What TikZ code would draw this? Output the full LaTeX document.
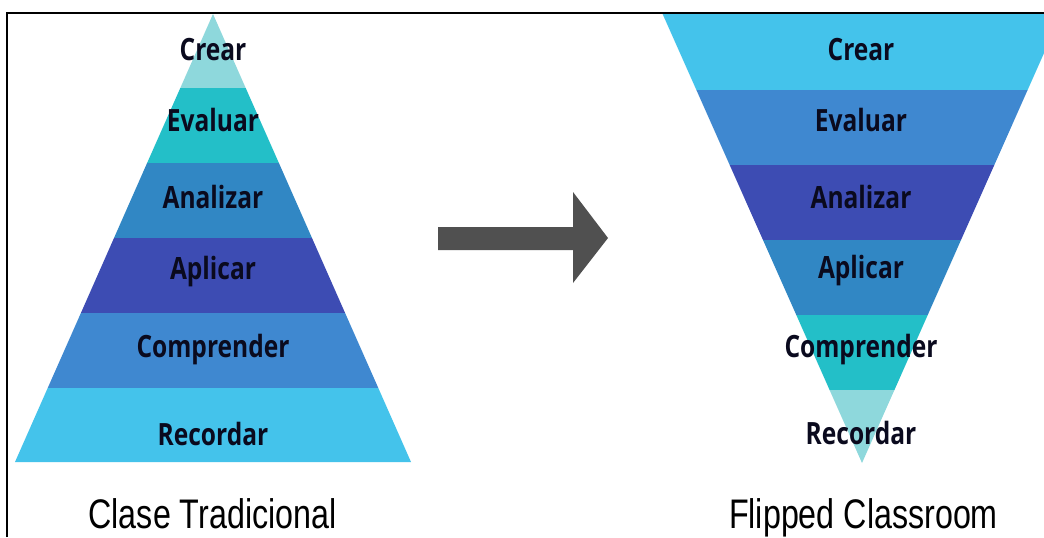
\documentclass[tikz,border=0pt]{standalone}
\usepackage{fontspec}
\usepackage{graphicx}
\newfontfamily\lblfont{Open Sans}
\newfontfamily\capfont{Liberation Sans}
\definecolor{cLight}{HTML}{8ED8DC}
\definecolor{cTeal}{HTML}{23BFC8}
\definecolor{cMid}{HTML}{3187C4}
\definecolor{cDark}{HTML}{3D4CB3}
\definecolor{cBlue}{HTML}{3F88D0}
\definecolor{cSky}{HTML}{44C3EB}
\definecolor{cText}{HTML}{0A0A1E}
\definecolor{cArrow}{HTML}{505050}
\tikzset{
  band/.style={fill=#1, draw=none},
  lvl/.style={inner sep=0pt, text=cText, font=\lblfont\bfseries\fontsize{23}{23}\selectfont},
  captext/.style={inner sep=0pt, text=black, font=\capfont\fontsize{31}{31}\selectfont},
  framestyle/.style={draw=black, line width=1.6pt}
}
\newcommand{\nar}[1]{\scalebox{0.8}[1]{#1}}
\newcommand{\narc}[1]{\scalebox{0.78}[1]{#1}}
\begin{document}
\begin{tikzpicture}[x=0.75pt,y=-0.75pt]
\useasboundingbox (0,0) rectangle (1044,537);
\fill[white] (0,0) rectangle (1044,537);
% left pyramid
\fill[band=cLight] (213,14) -- (245.7,88) -- (180.3,88) -- cycle;
\fill[band=cTeal] (180.3,88) -- (245.7,88) -- (278.9,163) -- (147.1,163) -- cycle;
\fill[band=cMid] (147.1,163) -- (278.9,163) -- (312,238) -- (114,238) -- cycle;
\fill[band=cDark] (114,238) -- (312,238) -- (345.1,313) -- (80.9,313) -- cycle;
\fill[band=cBlue] (80.9,313) -- (345.1,313) -- (378.3,388) -- (47.7,388) -- cycle;
\fill[band=cSky] (47.7,388) -- (378.3,388) -- (411,462) -- (15,462) -- cycle;
% right inverted pyramid
\begin{scope}
\clip (0,0) rectangle (1044,537);
\fill[band=cSky] (662.6,14) -- (1061.4,14) -- (1027.6,90) -- (696.4,90) -- cycle;
\fill[band=cBlue] (696.4,90) -- (1027.6,90) -- (994.3,165) -- (729.7,165) -- cycle;
\fill[band=cDark] (729.7,165) -- (994.3,165) -- (961,240) -- (763,240) -- cycle;
\fill[band=cMid] (763,240) -- (961,240) -- (927.7,315) -- (796.3,315) -- cycle;
\fill[band=cTeal] (796.3,315) -- (927.7,315) -- (894.4,390) -- (829.6,390) -- cycle;
\fill[band=cLight] (829.6,390) -- (894.4,390) -- (862,463) -- cycle;
\end{scope}
% labels left
\node[lvl] (lcrear) at (213,50) {\nar{Crear}};
\node[lvl] (leval) at (213,120) {\nar{Evaluar}};
\node[lvl] (lanal) at (213,197) {\nar{Analizar}};
\node[lvl] (lapli) at (213,272) {\nar{Aplicar}};
\node[lvl] (lcomp) at (213,350) {\nar{Comprender}};
\node[lvl] (lreco) at (213,434) {\nar{Recordar}};
% labels right
\node[lvl] (rcrear) at (861,50) {\nar{Crear}};
\node[lvl] (reval) at (861,120) {\nar{Evaluar}};
\node[lvl] (ranal) at (861,197) {\nar{Analizar}};
\node[lvl] (rapli) at (861,271) {\nar{Aplicar}};
\node[lvl] (rcomp) at (861,350) {\nar{Comprender}};
\node[lvl] (rreco) at (861,433) {\nar{Recordar}};
% arrow
\fill[cArrow] (438,227) -- (573,227) -- (573,192) -- (608,238) -- (573,283) -- (573,250) -- (438,250) -- cycle;
% captions
\node[captext, anchor=base] (ctrad) at (212.5,528) {\narc{Clase Tradicional}};
\node[captext, anchor=base] (cflip) at (863.5,528) {\narc{Flipped Classroom}};
% frame
\draw[framestyle] (7,537) -- (7,13) -- (1044,13);
\end{tikzpicture}
\end{document}
